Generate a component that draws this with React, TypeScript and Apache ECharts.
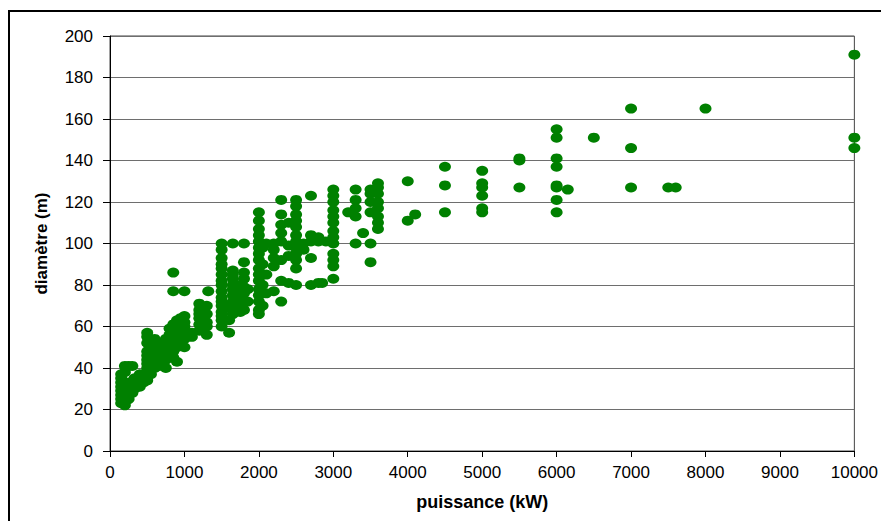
import React, { useEffect, useRef } from "react";
import * as echarts from "echarts";

// Turbine power classes (kW) and the rotor diameters (m) observed for each
const powerKW = [
  150, 200, 225, 250, 275, 300, 330, 400, 450, 500, 550, 600, 660, 700, 750, 800,
  850, 900, 950, 1000, 1100, 1200, 1250, 1300, 1320, 1500, 1600, 1650, 1750, 1800,
  1850, 2000, 2050, 2100, 2200, 2300, 2400, 2500, 2600, 2700, 2800, 2850, 2900, 3000,
  3200, 3300, 3400, 3500, 3600, 4000, 4100, 4500, 5000, 5500, 6000, 6150, 6500, 7000,
  7500, 7600, 8000, 10000,
];

const diametersM: number[][] = [
  [23, 25, 27, 29, 31, 33, 35, 37],
  [22, 24, 26, 28, 30, 33, 38, 41],
  [27, 29, 32],
  [25, 27, 29, 30, 33, 41],
  [29, 31],
  [28, 30, 32, 33, 41],
  [30, 33, 35],
  [31, 33, 35, 37],
  [33, 35, 37],
  [34, 36, 38, 40, 42, 44, 46, 48, 52, 55, 57],
  [37, 41],
  [40, 42, 44, 46, 48, 50, 52, 54],
  [41, 44, 47, 50, 52],
  [45, 48, 51],
  [40, 44, 46, 48, 50, 52, 54],
  [48, 50, 52, 54, 56, 59],
  [45, 48, 50, 52, 55, 58, 61, 77, 86],
  [43, 50, 52, 54, 56, 60, 63],
  [52, 55, 58, 61, 64],
  [50, 54, 56, 58, 60, 62, 65, 77],
  [55, 57],
  [58, 61, 64, 66, 68, 71],
  [60, 62, 64],
  [56, 60, 62, 66, 70],
  [77],
  [60, 63, 65, 67, 70, 72, 74, 77, 80, 82, 85, 88, 90, 93, 97, 100],
  [57, 63, 69, 70],
  [66, 69, 72, 75, 78, 80, 83, 85, 87, 100],
  [67, 70, 73, 76, 80],
  [68, 72, 76, 79, 83, 86, 91, 100],
  [72, 78],
  [66, 68, 72, 75, 78, 82, 85, 88, 92, 95, 98, 101, 104, 107, 111, 115],
  [70, 80, 90, 98],
  [76, 85, 100],
  [77, 89, 93, 97, 100],
  [72, 82, 92, 101, 105, 109, 114, 121],
  [81, 94, 99, 110],
  [80, 88, 92, 95, 98, 101, 104, 108, 111, 114, 118, 121],
  [97, 100],
  [80, 93, 101, 104, 123],
  [81, 101, 103],
  [81],
  [101],
  [83, 89, 92, 95, 100, 103, 106, 110, 113, 116, 120, 123, 126],
  [115],
  [100, 113, 117, 121, 126],
  [105],
  [91, 100, 115, 120, 124, 126],
  [107, 110, 113, 117, 120, 124, 127, 129],
  [111, 130],
  [114],
  [115, 128, 137],
  [115, 117, 123, 127, 129, 135],
  [127, 140, 141],
  [115, 121, 127, 128, 137, 141, 151, 155],
  [126],
  [151],
  [127, 146, 165],
  [127],
  [127],
  [165],
  [146, 151, 191],
];

const yTicks = { min: 0, max: 200, interval: 20 };
const xTicks = { min: 0, max: 10000, interval: 1000 };

export default function App() {
  const ref = useRef<HTMLDivElement>(null);

  useEffect(() => {
    if (!ref.current) return;
    const chart = echarts.init(ref.current, undefined, { renderer: "svg" });
    const points: number[][] = [];
    powerKW.forEach((p, i) => {
      diametersM[i].forEach((d) => points.push([p, d]));
    });
    const font = "'Liberation Sans', Arial, sans-serif";
    chart.setOption({
      animation: false,
      backgroundColor: "#ffffff",
      graphic: [
        {
          type: "rect",
          shape: { x: 9, y: 11, width: 1000, height: 1000 },
          style: { fill: "none", stroke: "#000", lineWidth: 2 },
          silent: true,
        },
      ],
      grid: {
        left: 110,
        right: 26,
        top: 36,
        bottom: 70,
        show: true,
        borderColor: "#444",
        borderWidth: 1,
        backgroundColor: "transparent",
      },
      xAxis: {
        type: "value",
        min: xTicks.min,
        max: xTicks.max,
        interval: xTicks.interval,
        name: "puissance (kW)",
        nameLocation: "middle",
        nameGap: 42,
        nameTextStyle: { fontFamily: font, fontSize: 18, fontWeight: "bold", color: "#000" },
        axisLine: { show: true, onZero: false, lineStyle: { color: "#000", width: 1 } },
        axisTick: { show: true, inside: false, length: 6, lineStyle: { color: "#000" } },
        axisLabel: {
          fontFamily: font,
          fontSize: 17,
          color: "#000",
          margin: 13,
          formatter: (v: number) => String(v),
        },
        splitLine: { show: false },
      },
      yAxis: {
        type: "value",
        min: yTicks.min,
        max: yTicks.max,
        interval: yTicks.interval,
        name: "diamètre (m)",
        nameLocation: "middle",
        nameRotate: 90,
        nameGap: 60,
        nameTextStyle: { fontFamily: font, fontSize: 17, fontWeight: "bold", color: "#000" },
        axisLine: { show: true, onZero: false, lineStyle: { color: "#000", width: 1 } },
        axisTick: { show: true, inside: false, length: 7, lineStyle: { color: "#000" } },
        axisLabel: {
          fontFamily: font,
          fontSize: 17,
          color: "#000",
          margin: 17,
          formatter: (v: number) => String(v),
        },
        splitLine: { show: true, lineStyle: { color: "#6e6e6e", width: 1 } },
      },
      series: [
        {
          type: "scatter",
          data: points,
          symbol: "circle",
          symbolSize: [12, 10],
          itemStyle: { color: "#008000", opacity: 1 },
        },
      ],
    });
    return () => chart.dispose();
  }, []);

  return (
    <div
      ref={ref}
      style={{ position: "fixed", left: 0, top: 0, width: 881, height: 521, background: "#fff" }}
    />
  );
}
